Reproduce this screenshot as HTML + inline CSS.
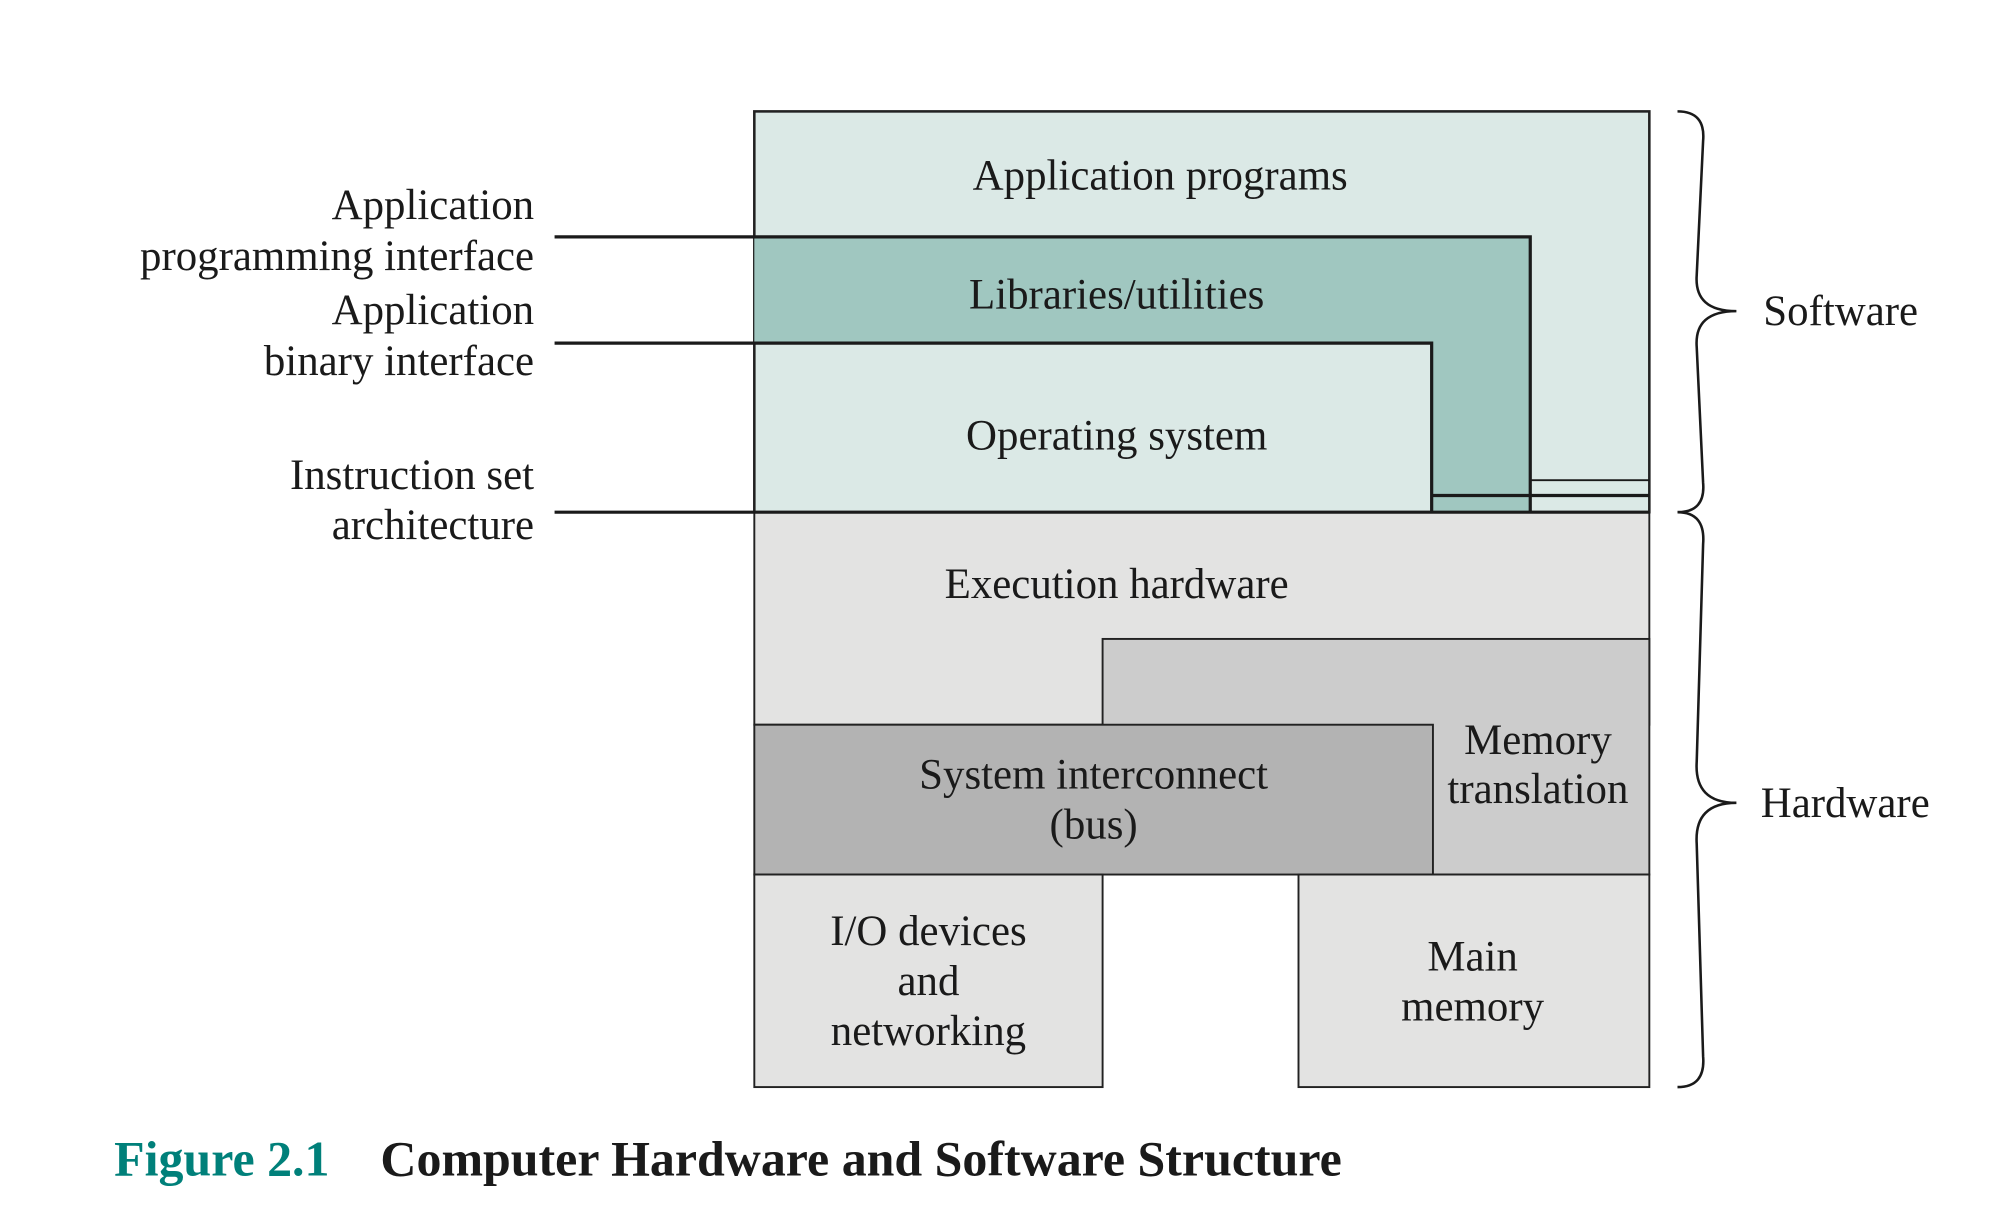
<!DOCTYPE html>
<html><head><meta charset="utf-8"><style>
html,body{margin:0;padding:0;background:#fff;}
svg{display:block;}
text{font-family:"Liberation Serif",serif;fill:#1a1a1a;}
</style></head><body>
<svg width="2008" height="1210" viewBox="0 0 1568 945" xmlns="http://www.w3.org/2000/svg">
<rect x="589" y="87" width="699" height="313" fill="#dbe9e6" stroke="#222" stroke-width="2"/>
<polygon points="589,185 1195,185 1195,400 1118,400 1118,268 589,268" fill="#a0c7c0"/>
<rect x="589" y="400" width="699" height="166" fill="#e3e3e2" stroke="#222" stroke-width="1.5"/>
<rect x="861" y="499" width="427" height="184" fill="#cccccc" stroke="#222" stroke-width="1.5"/>
<rect x="589" y="566" width="530" height="117" fill="#b3b3b3" stroke="#222" stroke-width="1.5"/>
<rect x="589" y="683" width="272" height="166" fill="#e3e3e2" stroke="#222" stroke-width="1.5"/>
<rect x="1014" y="683" width="274" height="166" fill="#e3e3e2" stroke="#222" stroke-width="1.5"/>
<g fill="none" stroke="#1a1a1a" stroke-width="2.5">
<polyline points="433,185 1195,185 1195,400"/>
<polyline points="433,268 1118,268 1118,400"/>
<line x1="433" y1="400" x2="1288" y2="400"/>
<line x1="1118" y1="387" x2="1288" y2="387"/>
</g>
<line x1="1195" y1="375" x2="1288" y2="375" stroke="#1a1a1a" stroke-width="1.5"/>
<g fill="none" stroke="#1a1a1a" stroke-width="2">
<path d="M1310,87 Q1332,87 1330,110 L1325,215 Q1323,243 1356,243 Q1323,243 1325,271 L1330,377 Q1332,400 1310,400"/>
<path d="M1310,400 Q1332,400 1330,425 L1325,595 Q1323,627 1356,627 Q1323,627 1325,659 L1330,825 Q1332,849 1310,849"/>
</g>
<g font-size="33.5" text-anchor="middle">
<text x="906" y="148">Application programs</text>
<text x="872" y="241">Libraries/utilities</text>
<text x="872" y="351">Operating system</text>
<text x="872" y="467">Execution hardware</text>
<text x="854" y="616">System interconnect</text>
<text x="854" y="655">(bus)</text>
<text x="1201" y="589">Memory</text>
<text x="1201" y="627">translation</text>
<text x="725" y="738">I/O devices</text>
<text x="725" y="777">and</text>
<text x="725" y="816">networking</text>
<text x="1150" y="758">Main</text>
<text x="1150" y="797">memory</text>
</g>
<g font-size="33.5" text-anchor="end">
<text x="417" y="171">Application</text>
<text x="417" y="211">programming interface</text>
<text x="417" y="253">Application</text>
<text x="417" y="293">binary interface</text>
<text x="417" y="382">Instruction set</text>
<text x="417" y="421">architecture</text>
</g>
<g font-size="33.5">
<text x="1377" y="254">Software</text>
<text x="1375" y="638">Hardware</text>
</g>
<text x="89" y="918" font-size="39" font-weight="bold" style="fill:#00807a">Figure 2.1</text>
<text x="297" y="918" font-size="39" font-weight="bold">Computer Hardware and Software Structure</text>
</svg>
</body></html>
